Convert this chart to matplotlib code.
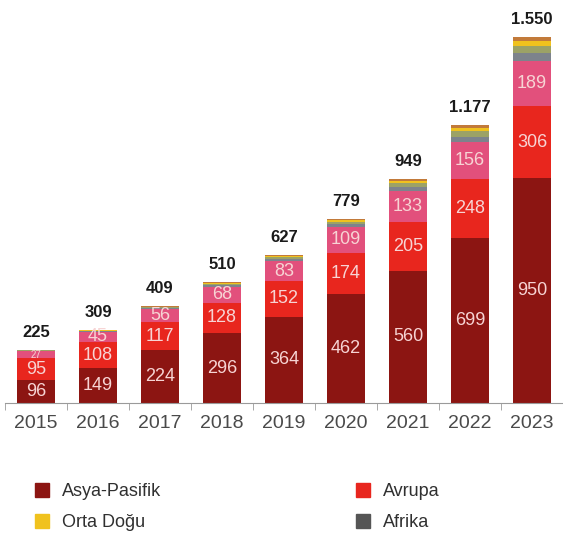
import numpy as np
import matplotlib
matplotlib.use('Agg')
import matplotlib.pyplot as plt
from matplotlib.patches import Patch

plt.rcParams['font.family'] = ['Liberation Sans', 'DejaVu Sans']

years = ['2015', '2016', '2017', '2018', '2019', '2020', '2021', '2022', '2023']
asya_pasifik = [96, 149, 224, 296, 364, 462, 560, 699, 950]
avrupa = [95, 108, 117, 128, 152, 174, 205, 248, 306]
kuzey_amerika = [27, 45, 56, 68, 83, 109, 133, 156, 189]
afrika = [3, 2, 4, 6, 9, 11, 17, 24, 35]
latin_amerika = [2, 2, 3, 5, 8, 10, 15, 22, 30]
orta_dogu = [1, 2, 3, 4, 6, 7, 10, 15, 22]
diger = [1, 1, 2, 3, 5, 6, 9, 13, 18]
totals = [225, 309, 409, 510, 627, 779, 949, 1177, 1550]

series = [
    ('Asya-Pasifik', asya_pasifik, '#8c1512', True),
    ('Avrupa', avrupa, '#e8261e', True),
    ('Kuzey Amerika', kuzey_amerika, '#e2507c', True),
    ('Afrika', afrika, '#7d838c', False),
    ('Latin Amerika', latin_amerika, '#9ca266', False),
    ('Orta Doğu', orta_dogu, '#f0c21e', False),
    ('Diğer', diger, '#c27a3a', False),
]

fig = plt.figure(figsize=(5.63, 5.42), dpi=100)
W, H = 563, 542
ax = fig.add_axes([5 / W, (H - 403) / H, 558 / W, 383 / H])

x = np.arange(len(years))
bottom = np.zeros(len(years))
for name, vals, color, labelled in series:
    vals = np.array(vals, dtype=float)
    bars = ax.bar(x, vals, width=0.6, bottom=bottom, color=color,
                  edgecolor='none', label=name)
    if labelled:
        for b, v, b0 in zip(bars, vals, bottom):
            # thin segments get a smaller label so it stays inside
            fs = 13 if v >= 40 else 7
            t = ax.text(b.get_x() + b.get_width() / 2, b0 + v / 2, '%d' % v,
                        ha='center', va='center', fontsize=fs,
                        color='#f7d4d4')
            t.set_clip_path(b)
    bottom += vals

for xi, top, tot in zip(x, bottom, totals):
    lab = '{:,}'.format(tot).replace(',', '.')
    ax.annotate(lab, (xi, top), xytext=(0, 10), textcoords='offset pixels',
                ha='center', va='bottom', fontsize=12, fontweight='bold',
                color='#1a1a1a')

ax.set_xlim(-0.5, 8.5)
ax.set_ylim(0, 1620)
for s in ['top', 'right', 'left']:
    ax.spines[s].set_visible(False)
ax.spines['bottom'].set_color('#9a9a9a')
ax.set_yticks([])
ax.set_xticks(x)
ax.set_xticklabels(years, fontsize=14, color='#4a4a4a')
ax.tick_params(axis='x', which='major', length=0, pad=9)
ax.set_xticks(np.arange(-0.5, 8.0, 1.0), minor=True)
ax.tick_params(axis='x', which='minor', length=5, color='#9a9a9a', direction='out')

colors = {name: c for name, _, c, _ in series}
leg_kw = dict(loc='upper left', frameon=False, fontsize=13, handlelength=0.8,
              handleheight=0.8, handletextpad=0.7, labelspacing=0.75,
              borderpad=0, borderaxespad=0, labelcolor='#303030')
fig.legend(handles=[Patch(color=colors['Asya-Pasifik'], label='Asya-Pasifik'),
                    Patch(color=colors['Orta Doğu'], label='Orta Doğu')],
           bbox_to_anchor=(35 / W, 1 - 483 / H), **leg_kw)
fig.legend(handles=[Patch(color=colors['Avrupa'], label='Avrupa'),
                    Patch(color='#555555', label='Afrika')],
           bbox_to_anchor=(356 / W, 1 - 483 / H), **leg_kw)

fig.savefig('out.png', dpi=100)
